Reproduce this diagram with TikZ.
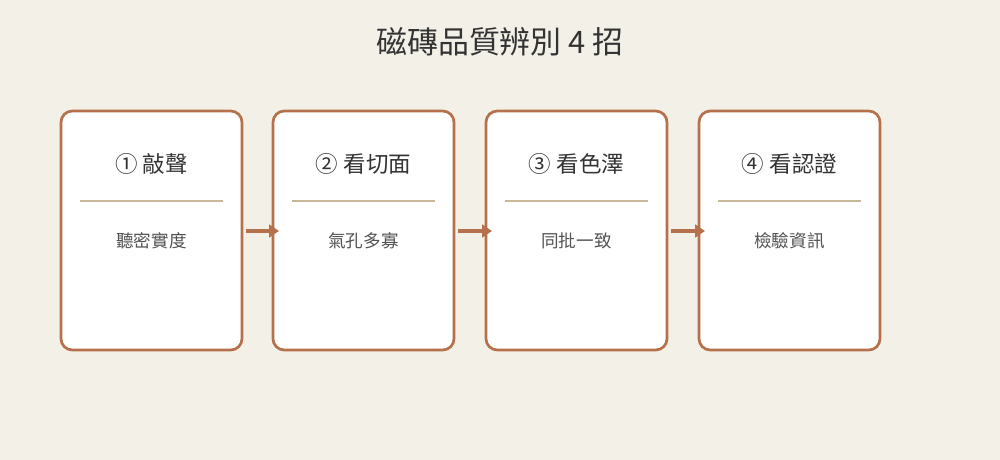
\documentclass[tikz,border=0pt]{standalone}
\usepackage{fontspec}
\setmainfont{Noto Sans CJK TC}
\usetikzlibrary{arrows.meta}
\definecolor{bg}{HTML}{F3F0E8}
\definecolor{br}{HTML}{B5714B}
\definecolor{tan}{HTML}{C9B898}
\definecolor{tx}{HTML}{333333}
\begin{document}
\begin{tikzpicture}[x=0.025cm,y=-0.025cm,
  card/.style={draw=br,line width=1.9pt,fill=white,rounded corners=8pt},
  head/.style={font=\fontsize{16}{18}\selectfont,text=tx},
  sub/.style={font=\fontsize{12.5}{14}\selectfont,text=tx!85},
  div/.style={draw=tan,line width=1pt},
  arr/.style={draw=br,line width=2.2pt,-{Triangle[length=7pt,width=9pt]}}]
\fill[bg] (0,0) rectangle (1000,460);
\useasboundingbox (0,0) rectangle (1000,460);
\node[font=\fontsize{22}{26}\selectfont,text=tx] (title) at (500,42) {磁磚品質辨別 4 招};
\foreach \i/\x/\h/\s in {1/61/① 敲聲/聽密實度,2/273/② 看切面/氣孔多寡,3/486/③ 看色澤/同批一致,4/699/④ 看認證/檢驗資訊}{
  \draw[card] (\x,111) rectangle (\x+181,350);
  \node[head] (h\i) at (\x+90.5,164) {\h};
  \draw[div] (\x+19,201) -- (\x+162,201);
  \node[sub] (s\i) at (\x+90.5,241) {\s};
  \coordinate (L\i) at (\x,231);
  \coordinate (R\i) at (\x+181,231);
}
\foreach \a/\b in {1/2,2/3,3/4}{
  \draw[arr] ([xshift=4*0.025cm]R\a) -- ([xshift=6*0.025cm]L\b);
}
\end{tikzpicture}
\end{document}
